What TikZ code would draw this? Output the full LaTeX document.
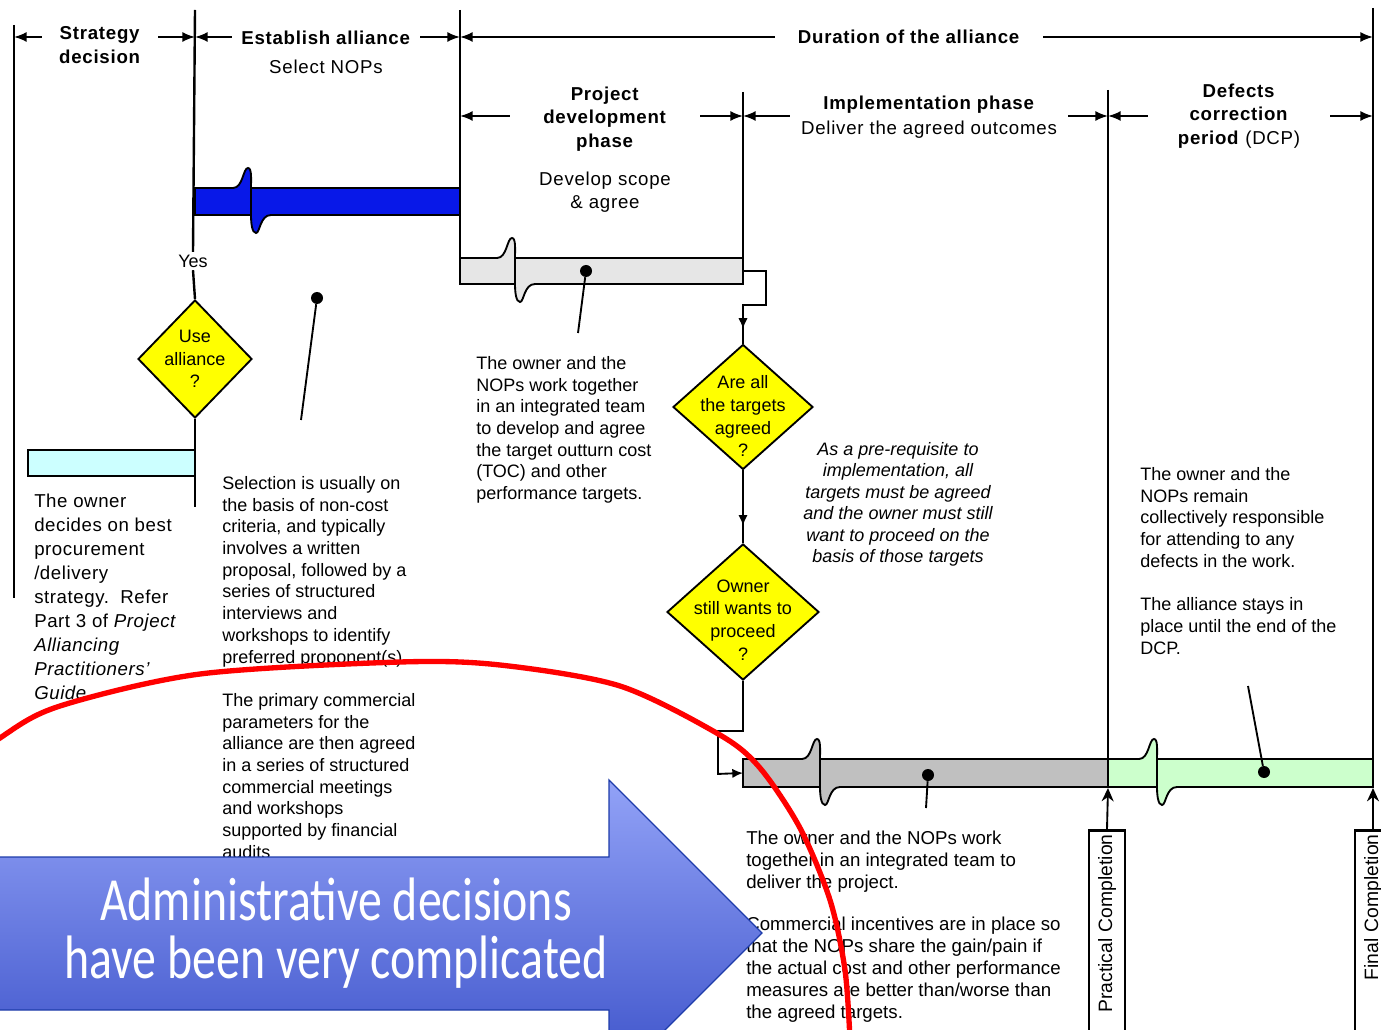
\documentclass[tikz,border=0pt]{standalone}
\usepackage{fontspec}
\setmainfont{Liberation Sans}
\newfontfamily\bannerfont[FakeStretch=0.78]{Carlito}
\usetikzlibrary{shapes.geometric,arrows.meta,decorations.markings}

\definecolor{barblue}{RGB}{8,24,232}
\definecolor{barpale}{RGB}{230,230,230}
\definecolor{bargrey}{RGB}{192,192,192}
\definecolor{bargreen}{RGB}{204,255,204}
\definecolor{barcyan}{RGB}{204,255,255}
\definecolor{decyellow}{RGB}{255,255,0}
\definecolor{bannertop}{RGB}{146,162,247}
\definecolor{bannerbot}{RGB}{58,80,200}
\definecolor{banneredge}{RGB}{30,60,170}

% break mark on a bar: x, top, bottom, colour
\newcommand{\barbreak}[4]{%
  \draw[barline,fill=#4] ({#1-18},#2) .. controls ({#1-8},#2) and ({#1-8},{#2-20}) .. ({#1-3},{#2-20})
    .. controls ({#1+1},{#2-20}) and (#1,{#2-8}) .. (#1,#2) -- (#1,#3)
    .. controls (#1,{#3+8}) and ({#1+1},{#3+18}) .. ({#1+5},{#3+18})
    .. controls ({#1+9},{#3+18}) and ({#1+9},#3) .. ({#1+20},#3);}

\begin{document}
\begin{tikzpicture}[x=0.75pt,y=-0.75pt,
    sep/.style={line width=1.8pt},
    dim/.style={line width=1.4pt,-{Latex[length=9.5pt,width=7.5pt]}},
    phase/.style={align=center,inner sep=0pt,
      font=\fontsize{14}{17.5}\selectfont\addfontfeature{LetterSpace=4}},
    note/.style={align=left,anchor=north west,inner sep=0pt,
      font=\fontsize{13.5}{16.3}\selectfont},
    barline/.style={line width=1.4pt},
    decision/.style={diamond,draw,line width=1.4pt,fill=decyellow,inner sep=0pt},
    dtext/.style={align=center,font=\fontsize{13.5}{17}\selectfont},
    flow/.style={line width=1.4pt},
    pointer/.style={line width=1.4pt},
    dot/.style={circle,fill,inner sep=0pt,minimum size=9pt},
    midarrow/.style={postaction={decorate},decoration={markings,
      mark=at position #1 with {\arrow{Latex[length=8pt,width=7pt]}}}},
    milestone/.style={draw,line width=2pt,rotate=90,inner xsep=3pt,inner ysep=0pt,
      minimum height=27pt,text width=151pt,align=right,
      font=\fontsize{14.5}{17}\selectfont},
    banner/.style={align=center,text=white,
      font=\bannerfont\fontsize{46}{43}\selectfont}
  ]
\useasboundingbox (0,0) rectangle (1381,1030);

% phase headings
\node[phase,minimum width=87pt] (strat) at (100,45) {\textbf{Strategy}\\\textbf{decision}};
\node[phase,minimum width=141pt] (est) at (326,52) {\textbf{Establish alliance}\\[4pt]Select NOPs};
\node[phase,minimum width=201pt] (dur) at (909,37) {\textbf{Duration of the alliance}};
\node[phase,minimum width=142.5pt] (pdp) at (605,119) {\textbf{Project}\\\textbf{development}\\\textbf{phase}};
\node[phase] (scope) at (605,192) {Develop scope\\\& agree};
\node[phase,minimum width=208.5pt] (imp) at (929,117) {\textbf{Implementation phase}\\[1pt]Deliver the agreed outcomes};
\node[phase,minimum width=136.5pt] (dcp) at (1239,116) {\textbf{Defects}\\\textbf{correction}\\\textbf{period} (DCP)};

\coordinate (t0) at (14,37);
\coordinate (t1) at (195,37);
\coordinate (t2) at (460,37);
\coordinate (t3) at (1373,37);
\coordinate (m2) at (460,116);
\coordinate (m3) at (743,116);
\coordinate (m4) at (1108,116);
\coordinate (m5) at (1373,116);

\draw[dim] (strat.west |- t0) -- (t0);
\draw[dim] (strat.east |- t1) -- (t1);
\draw[dim] (est.west |- t1) -- (t1);
\draw[dim] (est.east |- t2) -- (t2);
\draw[dim] (dur.west |- t2) -- (t2);
\draw[dim] (dur.east |- t3) -- (t3);
\draw[dim] (pdp.west |- m2) -- (m2);
\draw[dim] (pdp.east |- m3) -- (m3);
\draw[dim] (imp.west |- m3) -- (m3);
\draw[dim] (imp.east |- m4) -- (m4);
\draw[dim] (dcp.west |- m4) -- (m4);
\draw[dim] (dcp.east |- m5) -- (m5);

% bars
\draw[barline,fill=barblue] (195,188) rectangle (460,215);
\barbreak{251}{188}{215}{barblue}
\draw[barline,fill=barpale] (460,258) rectangle (743,284);
\barbreak{515}{258}{284}{barpale}
\draw[barline,fill=barcyan] (28,450) rectangle (195,476);
\draw[barline,fill=bargrey] (743,759) rectangle (1108,787);
\barbreak{820}{759}{787}{bargrey}
\draw[barline,fill=bargreen] (1108,759) rectangle (1373,787);
\barbreak{1157}{759}{787}{bargreen}

% decisions
\node[font=\fontsize{13.5}{16}\selectfont,inner sep=2pt] (yes) at (193,261) {Yes};
\node[decision,minimum width=85.5pt,minimum height=88.5pt,
  label={[dtext]center:{Use\\alliance\\?}}] (use) at (195,359) {};
\node[decision,minimum width=105pt,minimum height=93.75pt,
  label={[dtext,yshift=-7pt]center:{Are all\\the targets\\agreed\\?}}] (agree) at (743,407) {};
\node[decision,minimum width=114pt,minimum height=102pt,
  label={[dtext,yshift=-6pt]center:{Owner\\still wants to\\proceed\\?}}] (proceed) at (743,612) {};

% separators
\draw[sep,line width=1.3pt] (14,25) -- (14,598);
\draw[sep] (195,10) -- (yes.north);
\draw[sep] (yes.south) -- (use.north);
\draw[sep] (use.south) -- (195,507);
\draw[sep,line width=2.2pt] (460,10) -- (460,285);
\draw[sep] (743,92) -- (743,284);
\draw[sep,line width=1.2pt] (1108,90) -- (1108,787);
\draw[sep,line width=2.2pt] (1373,8) -- (1373,787);

% flow
\coordinate (devend) at (743,271);
\coordinate (impstart) at (743,773);
\draw[flow,midarrow=-11pt] (devend) -- ++(23,0) -- ++(0,34) -- ++(-23,0) -- (agree.north);
\draw[flow,midarrow=-13pt] (agree.south) -- (proceed.north);
\draw[flow,-{Latex[length=8pt,width=7pt]}] (proceed.south) -- ++(0,50) -- ++(-25,0) -- ++(0,43) -- (impstart);

% pointers
\node[dot] (seldot) at (317,298) {};
\coordinate (seltip) at (301,420);
\draw[pointer] (seldot) -- (seltip);
\node[dot] (devdot) at (586,271) {};
\coordinate (devtip) at (578,333);
\draw[pointer] (devdot) -- (devtip);
\node[dot] (impdot) at (928,775) {};
\coordinate (imptip) at (926,808);
\draw[pointer] (impdot) -- (imptip);
\node[dot] (dcpdot) at (1264,772) {};
\coordinate (dcptip) at (1248,686);
\draw[pointer] (dcpdot) -- (dcptip);

% milestones
\node[milestone] (pc) at (1107,935) {Practical Completion};
\node[milestone] (fc) at (1373,935) {Final Completion};
\coordinate (pcend) at (1108,788);
\coordinate (fcend) at (1373,788);
\draw[flow,-{Stealth[length=10pt,width=9pt]}] (pc.east) -- (pcend);
\draw[flow,-{Stealth[length=10pt,width=9pt]}] (fc.east) -- (fcend);

% notes
\node[note,font=\fontsize{14}{18}\selectfont\addfontfeature{LetterSpace=3}] (ownertxt) at (34,494)
  {The owner\\decides on best\\procurement\\/delivery\\strategy.~~Refer\\Part 3 of \textit{Project}\\\textit{Alliancing}\\\textit{Practitioners'}\\\textit{Guide}};
\node[note] (seltxt) at (222,476)
  {Selection is usually on\\the basis of non-cost\\criteria, and typically\\involves a written\\proposal, followed by a\\series of structured\\interviews and\\workshops to identify\\preferred proponent(s)};
\node[note] (primtxt) at (222,693)
  {The primary commercial\\parameters for the\\alliance are then agreed\\in a series of structured\\commercial meetings\\and workshops\\supported by financial\\audits};
\node[note] (devtxt) at (476,356)
  {The owner and the\\NOPs work together\\in an integrated team\\to develop and agree\\the target outturn cost\\(TOC) and other\\performance targets.};
\node[note,align=center,anchor=north,font=\fontsize{13.5}{16.1}\selectfont\itshape] (reqtxt) at (898,442)
  {As a pre-requisite to\\implementation, all\\targets must be agreed\\and the owner must still\\want to proceed on the\\basis of those targets};
\node[note] (dcptxt) at (1140,467)
  {The owner and the\\NOPs remain\\collectively responsible\\for attending to any\\defects in the work.\\[16.5pt]The alliance stays in\\place until the end of the\\DCP.};
\node[note,font=\fontsize{14}{16.5}\selectfont] (imptxt) at (746,831)
  {The owner and the NOPs work\\together in an integrated team to\\deliver the project.\\[15pt]Commercial incentives are in place so\\that the NOPs share the gain/pain if\\the actual cost and other performance\\measures are better than/worse than\\the agreed targets.};

% red ring
\draw[red,line width=4pt] plot[smooth] coordinates {(-80,800) (0,738) (60,706) (200,674) (400,662) (500,665) (620,686) (720,735) (760,768) (800,828) (830,900) (845,970) (850,1040)};

% banner arrow
\draw[top color=bannertop,bottom color=bannerbot,draw=banneredge,line width=1pt]
  (-5,857) -- (609,857) -- (609,780) -- (762,933) -- (609,1086) -- (609,1010) -- (-5,1010) -- cycle;
\node[banner] (admin) at (336,933) {Administrative decisions\\have been very complicated};
\end{tikzpicture}
\end{document}
